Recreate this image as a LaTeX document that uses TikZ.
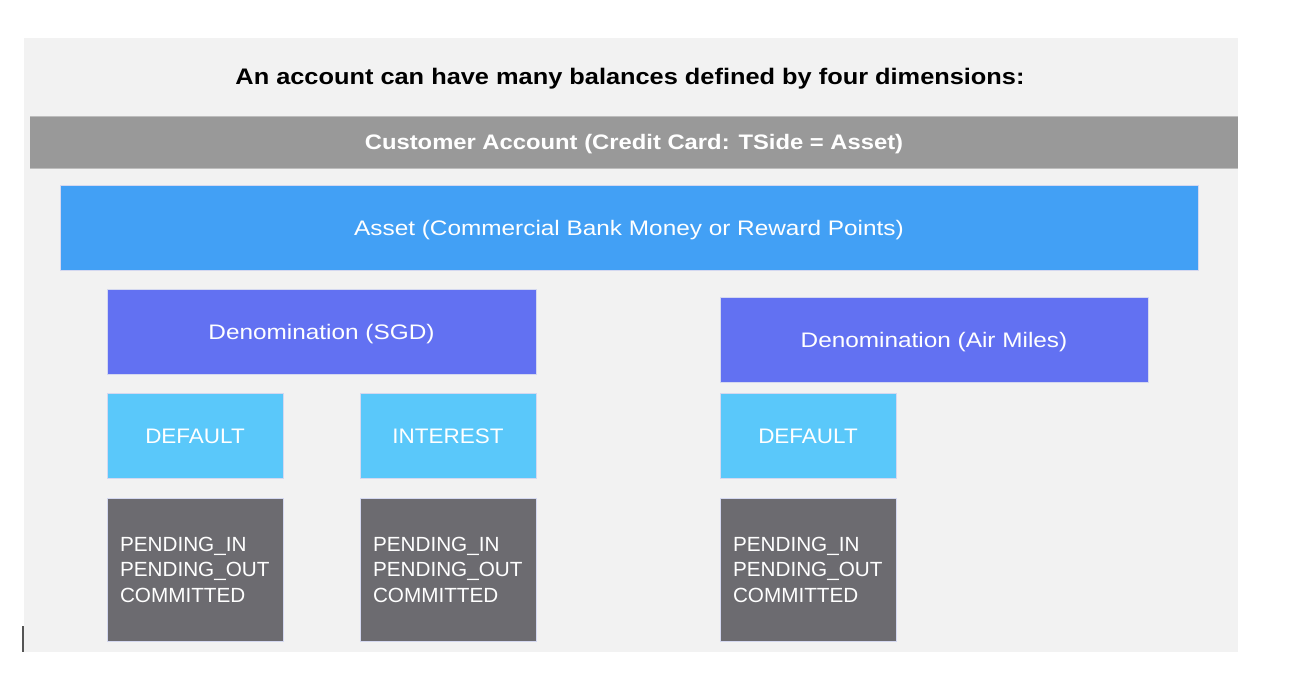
\documentclass[tikz,border=0pt]{standalone}
\usepackage{fontspec}
\setmainfont{Liberation Sans}
\newfontfamily\titlefont[FakeStretch=1.127]{Liberation Sans}
\newfontfamily\acctfont[FakeStretch=1.133]{Liberation Sans}
\newfontfamily\lowerfont[FakeStretch=1.16]{Liberation Sans}
\newfontfamily\capsfont[FakeStretch=1.07]{Liberation Sans}
\newfontfamily\phasefont[FakeStretch=1.01]{Liberation Sans}
\newsavebox\shiftbox
\newcommand\shifttext[2]{\sbox\shiftbox{#2}\raisebox{-#1}[\ht\shiftbox][\dp\shiftbox]{\usebox\shiftbox}}
\definecolor{panel}{HTML}{F2F2F2}
\definecolor{barbg}{HTML}{999999}
\definecolor{barline}{HTML}{BDBDBD}
\definecolor{assetbg}{HTML}{42A0F5}
\definecolor{denombg}{HTML}{6271F2}
\definecolor{addrbg}{HTML}{5AC8FA}
\definecolor{phasebg}{HTML}{6C6B70}
\definecolor{edgeline}{HTML}{D4D8F0}
\definecolor{tick}{HTML}{555555}
\tikzset{
  box/.style={rectangle, anchor=north west, inner sep=0pt, outer sep=0pt, draw=edgeline, line width=0.7pt, text=white},
  assetbox/.style={box, fill=assetbg, font=\lowerfont\fontsize{21}{25}\selectfont},
  denombox/.style={box, fill=denombg, font=\lowerfont\fontsize{21}{25}\selectfont},
  addrbox/.style={box, fill=addrbg, minimum width=176pt, minimum height=85pt, font=\capsfont\fontsize{21}{25}\selectfont},
  phasebox/.style={box, fill=phasebg, minimum width=176pt, minimum height=143pt, text width=150pt, inner xsep=13pt, align=left, font=\phasefont\fontsize{20.5}{25.5}\selectfont},
}
\begin{document}
\begin{tikzpicture}[x=1pt,y=-1pt]
\useasboundingbox (0,0) rectangle (1302,688);
\fill[white] (0,0) rectangle (1302,688);
\fill[panel] (24,38) rectangle (1238,652);
\draw[tick, line width=2pt] (23,626) -- (23,652);
\node[font=\titlefont\bfseries\fontsize{22.5}{26}\selectfont, text=black] (title) at (630,79) {An account can have many balances defined by four dimensions:};
\node[rectangle, anchor=north west, inner sep=0pt, outer sep=0pt, fill=barbg, minimum width=1208pt, minimum height=52pt, text=white, font=\acctfont\bfseries\fontsize{21}{25}\selectfont] (acct) at (30,116) {\shifttext{2pt}{Customer Account (Credit Card: TSide = Asset)}};
\draw[barline, line width=1pt] (acct.north west) -- (acct.north east);
\draw[barline, line width=1pt] (acct.south west) -- (acct.south east);
\node[assetbox, minimum width=1138pt, minimum height=85pt] (asset) at (60,185) {\shifttext{3pt}{Asset (Commercial Bank Money or Reward Points)}};
\node[denombox, minimum width=429pt, minimum height=85pt] (sgd) at (107,289) {\shifttext{3pt}{Denomination (SGD)}};
\node[denombox, minimum width=428pt, minimum height=85pt] (miles) at (720,297) {\shifttext{3pt}{Denomination (Air Miles)}};
\node[addrbox] (def1) at (107,393) {\shifttext{1pt}{DEFAULT}};
\node[addrbox] (int1) at (360,393) {\shifttext{1pt}{INTEREST}};
\node[addrbox] (def2) at (720,393) {\shifttext{1pt}{DEFAULT}};
\node[phasebox] (ph1) at (107,498) {PENDING\_IN\\PENDING\_OUT\\COMMITTED};
\node[phasebox] (ph2) at (360,498) {PENDING\_IN\\PENDING\_OUT\\COMMITTED};
\node[phasebox] (ph3) at (720,498) {PENDING\_IN\\PENDING\_OUT\\COMMITTED};
\end{tikzpicture}
\end{document}
